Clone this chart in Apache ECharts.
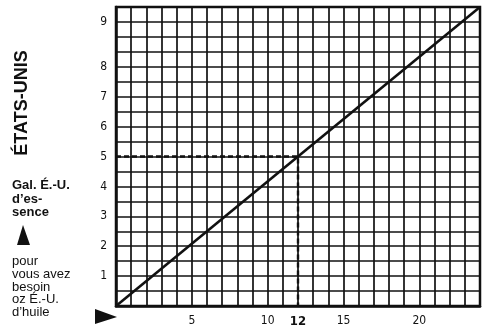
<!DOCTYPE html>
<html>
<head>
<meta charset="utf-8">
<script src="https://cdn.jsdelivr.net/npm/echarts@6/dist/echarts.min.js"></script>
<style>
  html, body { margin: 0; padding: 0; background: #fff; }
  #chart { width: 486px; height: 328px; }
</style>
</head>
<body>
<div id="chart"></div>
<script>
// droite de conversion : oz d'huile -> gal. d'essence
const ozHuile = [0, 24]
const galEssence = [0, 10]
// exemple
const exempleOz = 12
const exempleGal = 5
// graduations
const xTickLabels = [5, 10, 12, 15, 20]
const xTickBold = 12
const yTickValues = [1, 2, 3, 4, 5, 6, 7, 8, 9.5]
const yTickLabels = ['1', '2', '3', '4', '5', '6', '7', '8', '9']

const ink = '#111'
const narrow = '"Liberation Sans Narrow", "DejaVu Sans Condensed", "Roboto", sans-serif'
const sans = '"Liberation Sans", Arial, sans-serif'

const chart = echarts.init(document.getElementById('chart'))

const option = {
  animation: false,
  backgroundColor: '#fff',
  grid: {
    left: 116,
    right: 6,
    top: 7,
    bottom: 21,
    show: true,
    borderColor: ink,
    borderWidth: 2.5
  },
  xAxis: {
    type: 'value',
    min: 0,
    max: 24,
    interval: 1,
    axisLine: { show: true, lineStyle: { color: ink, width: 2.5 } },
    axisTick: { show: false },
    splitLine: { show: true, lineStyle: { color: ink, width: 1.7 } },
    axisLabel: {
      margin: 9,
      fontFamily: narrow,
      fontSize: 12,
      color: ink,
      showMinLabel: false,
      showMaxLabel: false,
      formatter: function (v) {
        if (v === xTickBold) return '{b|' + v + '}'
        return xTickLabels.indexOf(v) >= 0 ? String(v) : ''
      },
      rich: {
        b: { fontFamily: narrow, fontSize: 13, fontWeight: 'bold', color: ink }
      }
    }
  },
  yAxis: {
    type: 'value',
    min: 0,
    max: 10,
    interval: 0.5,
    axisLine: { show: true, lineStyle: { color: ink, width: 2.5 } },
    axisTick: { show: false },
    splitLine: { show: true, lineStyle: { color: ink, width: 1.7 } },
    axisLabel: {
      margin: 9,
      fontFamily: narrow,
      fontSize: 12,
      color: ink,
      showMinLabel: false,
      showMaxLabel: false,
      formatter: function (v) {
        const i = yTickValues.indexOf(v)
        return i >= 0 ? yTickLabels[i] : ''
      }
    }
  },
  series: [
    {
      type: 'line',
      data: ozHuile.map((x, i) => [x, galEssence[i]]),
      symbol: 'none',
      lineStyle: { color: ink, width: 2.6 },
      z: 3
    },
    {
      // lecture de l'exemple en pointillés
      type: 'line',
      data: [[0, exempleGal], [exempleOz, exempleGal], [exempleOz, 0]],
      symbol: 'none',
      lineStyle: { color: ink, width: 2.4, type: [5, 3] },
      z: 2
    }
  ],
  graphic: [
    {
      type: 'text',
      x: 22,
      y: 103,
      rotation: Math.PI / 2,
      style: {
        text: 'ÉTATS-UNIS',
        font: 'bold 18px ' + sans,
        fill: ink,
        align: 'center',
        verticalAlign: 'middle'
      }
    },
    {
      type: 'text',
      x: 12,
      y: 179,
      style: {
        text: 'Gal. É.-U.\nd’es-\nsence',
        font: 'bold 13px ' + sans,
        lineHeight: 13.5,
        fill: ink,
        align: 'left',
        verticalAlign: 'top'
      }
    },
    {
      type: 'polygon',
      shape: { points: [[23, 225], [17, 245], [30, 245]] },
      style: { fill: ink }
    },
    {
      type: 'text',
      x: 12,
      y: 255,
      style: {
        text: 'pour\nvous avez\nbesoin\noz É.-U.\nd’huile',
        font: '13px ' + sans,
        lineHeight: 12.8,
        fill: ink,
        align: 'left',
        verticalAlign: 'top'
      }
    },
    {
      type: 'polygon',
      shape: { points: [[95, 309], [117, 317], [95, 324]] },
      style: { fill: ink }
    }
  ]
}

chart.setOption(option)
</script>
</body>
</html>
